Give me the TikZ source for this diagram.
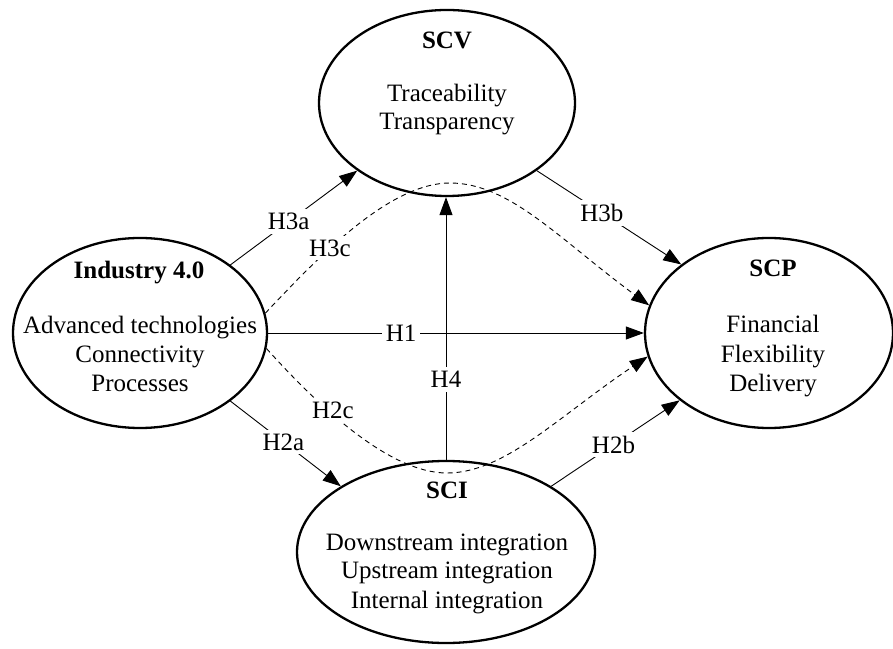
\documentclass[tikz,border=0pt]{standalone}
\usepackage{fontspec}
\setmainfont{Liberation Serif}
\usetikzlibrary{shapes.geometric,arrows.meta}
\begin{document}
\begin{tikzpicture}[x=1pt,y=1pt,
  construct/.style={ellipse, draw, line width=2.3pt, inner sep=0pt},
  txt/.style={anchor=base, inner sep=0pt, font=\fontsize{25}{29}\selectfont},
  ttl/.style={anchor=base, inner sep=0pt, font=\fontsize{25}{29}\selectfont\bfseries},
  lbl/.style={fill=white, inner sep=4pt, font=\fontsize{25}{29}\selectfont},
  conn/.style={line width=0.9pt, -{Triangle[length=18pt,width=13pt]}},
  dconn/.style={conn, dashed, dash pattern=on 5pt off 4pt}
]
\useasboundingbox (0,0) rectangle (893,648);

% constructs
\node[construct, minimum width=254pt, minimum height=190pt] (ind) at (140,315) {};
\node[construct, minimum width=256pt, minimum height=186pt] (scv) at (447,545) {};
\node[construct, minimum width=248pt, minimum height=190pt] (scp) at (769,315) {};
\node[construct, minimum width=298pt, minimum height=182pt] (sci) at (446,96) {};

% texts
\node[ttl] (scvT) at (447,599) {SCV};
\node[txt] (scv1) at (447,546) {Traceability};
\node[txt] (scv2) at (447,518) {Transparency};

\node[ttl] (indT) at (139,369) {Industry 4.0};
\node[txt] (ind1) at (140,314) {Advanced technologies};
\node[txt] (ind2) at (140,285) {Connectivity};
\node[txt] (ind3) at (140,256) {Processes};

\node[ttl] (scpT) at (773,371) {SCP};
\node[txt] (scp1) at (773,315) {Financial};
\node[txt] (scp2) at (773,285) {Flexibility};
\node[txt] (scp3) at (773,256) {Delivery};

\node[ttl] (sciT) at (447,150) {SCI};
\node[txt] (sci1) at (447,98) {Downstream integration};
\node[txt] (sci2) at (447,70) {Upstream integration};
\node[txt] (sci3) at (447,40) {Internal integration};

% dashed mediation paths
\coordinate (pk) at (450,465);
\coordinate (tr) at (447,175);
\draw[dconn] (ind.9) .. controls (320,393) and (390,465) .. (pk)
  .. controls (510,465) and (560,408) .. (scp.167);
\draw[dconn] (ind.-7) .. controls (320,240) and (390,175) .. (tr)
  .. controls (505,175) and (560,233) .. (scp.191);
\node[lbl] (h3c) at (330,400) {H3c};
\node[lbl] (h2c) at (333,238) {H2c};

% direct paths
\draw[conn] (ind.37) -- node[lbl, pos=0.46] (h3a) {H3a} (scv.217);
\draw[conn] (scv.-37) -- node[lbl, pos=0.45] (h3b) {H3b} (scp.142);
\draw[conn] (ind.-37) -- node[lbl, pos=0.48] (h2a) {H2a} (sci.148);
\draw[conn] (sci.32) -- node[lbl, pos=0.485] (h2b) {H2b} (scp.217);
\draw[conn] (ind.east) -- node[lbl, pos=0.354] (h1) {H1} (scp.west);
\draw[conn] (sci.north) -- node[lbl, pos=0.306] (h4) {H4} (sci.north |- scv.south);
\end{tikzpicture}
\end{document}
